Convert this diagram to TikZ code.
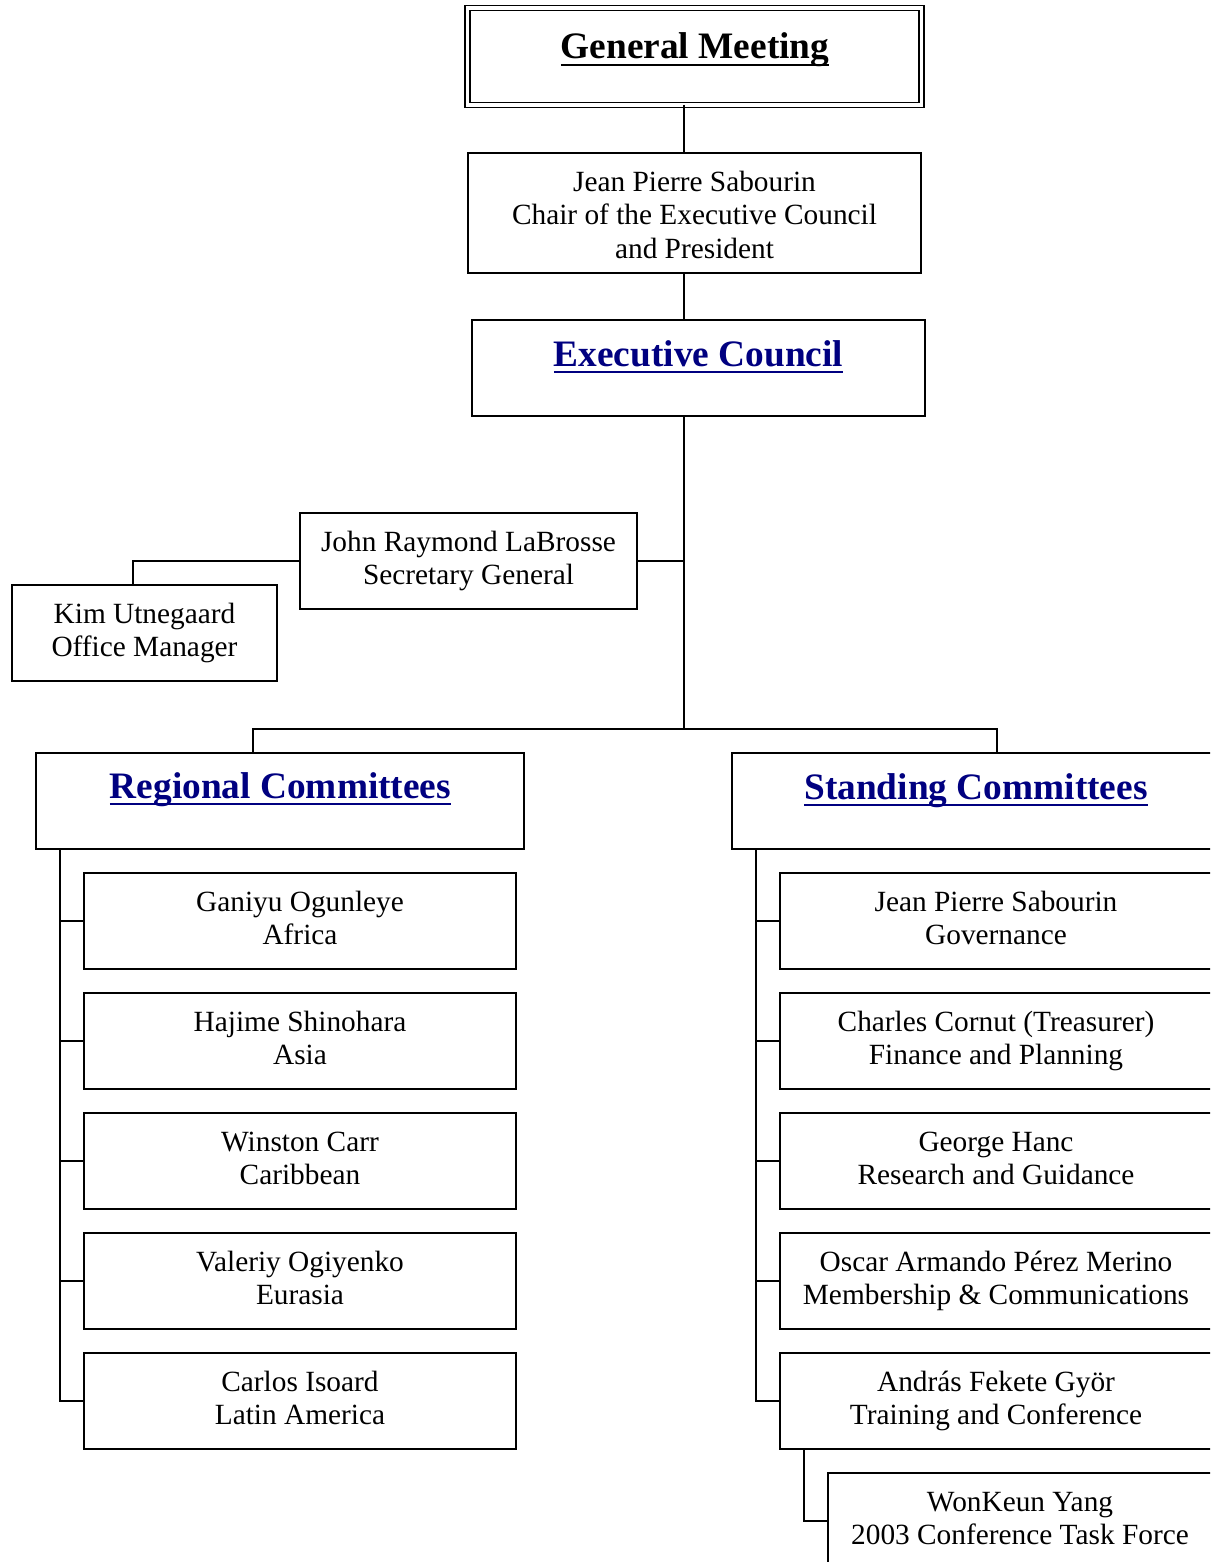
\documentclass[tikz,border=0pt]{standalone}
\usepackage{fontspec}
\setmainfont{Liberation Serif}
\definecolor{linkblue}{RGB}{0,0,128}
\newsavebox\ttlbox
\newcommand{\ulttl}[1]{\sbox\ttlbox{#1}\rlap{\vrule width\wd\ttlbox height -3.4pt depth 5.2pt}\usebox\ttlbox}
\newcommand{\lnstr}{\rule[-7.1pt]{0pt}{25pt}}
\newcommand{\lnstrc}{\rule[-3.6pt]{0pt}{25pt}}
\tikzset{
  orgbox/.style={draw, line width=1pt, rectangle, inner sep=0pt, outer sep=0pt, align=center, font=\fontsize{22}{25}\selectfont},
  ttl/.style={anchor=base, inner sep=0pt, font=\fontsize{28}{32}\selectfont\bfseries},
  link/.style={line width=1pt},
}
\begin{document}
\begin{tikzpicture}[x=0.75pt,y=0.75pt,yscale=-1,xscale=1]
\useasboundingbox (0,0) rectangle (1210,1562);
\clip (0,0) rectangle (1210,1562);

% Top boxes
\node[orgbox, double, double distance=2.75pt, minimum width=340.5pt, minimum height=72.75pt] (gm) at (694.5,56.5) {};
\node[ttl] (gmT) at (695,59) {\ulttl{General Meeting}};
\node[orgbox, minimum width=339.75pt, minimum height=90pt] (chair) at (694.5,213) {\lnstrc Jean Pierre Sabourin\\\lnstrc Chair of the Executive Council\\\lnstrc and President};
\node[orgbox, minimum width=339.75pt, minimum height=72pt] (exec) at (698.5,368) {};
\node[ttl, text=linkblue] (execT) at (698.5,366) {\ulttl{Executive Council}};

% Secretariat
\node[orgbox, minimum width=252.75pt, minimum height=72pt] (sec) at (468.5,561) {\lnstr John Raymond LaBrosse\\\lnstr Secretary General};
\node[orgbox, minimum width=198.75pt, minimum height=72pt] (kim) at (144.5,633) {\lnstr Kim Utnegaard\\\lnstr Office Manager};

% Committees
\node[orgbox, minimum width=366pt, minimum height=72pt] (reg) at (280,801) {};
\node[ttl, text=linkblue] (regT) at (280.5,798) {\ulttl{Regional Committees}};
\node[orgbox, minimum width=366pt, minimum height=72pt] (std) at (976,801) {};
\node[ttl, text=linkblue] (stdT) at (976,799) {\ulttl{Standing Committees}};

\foreach \nm/\rg [count=\i] in {Ganiyu Ogunleye/Africa, Hajime Shinohara/Asia, Winston Carr/Caribbean, Valeriy Ogiyenko/Eurasia, Carlos Isoard/Latin America}
  \node[orgbox, minimum width=324pt, minimum height=72pt] (reg\i) at (300,801+120*\i) {\lnstr\nm\\\lnstr\rg};
\foreach \nm/\rg [count=\i] in {Jean Pierre Sabourin/Governance, Charles Cornut (Treasurer)/Finance and Planning, George Hanc/Research and Guidance, Oscar Armando Pérez Merino/Membership \& Communications, András Fekete Györ/Training and Conference}
  \node[orgbox, minimum width=324pt, minimum height=72pt] (std\i) at (996,801+120*\i) {\lnstr\nm\\\lnstr\rg};
\node[orgbox, minimum width=288pt, minimum height=72pt] (won) at (1020,1521) {\lnstr WonKeun Yang\\\lnstr 2003 Conference Task Force};

% Connectors
\coordinate (barM) at (684,729);
\coordinate (regC) at (253,729);
\coordinate (stdC) at (997,729);
\coordinate (kimC) at (133,561);
\coordinate (regS) at (60,849);
\coordinate (stdS) at (756,849);
\coordinate (tcS) at (804,1449);
\draw[link] (gm.south -| barM) -- (chair.north -| barM);
\draw[link] (chair.south -| barM) -- (exec.north -| barM);
\draw[link] (exec.south -| barM) -- (barM);
\draw[link] (sec.east) -- (sec.east -| barM);
\draw[link] (sec.west) -- (kimC) -- (kimC |- kim.north);
\draw[link] (reg.north -| regC) -- (regC) -- (stdC) -- (std.north -| stdC);
\foreach \i in {1,...,5} {
  \draw[link] (regS) |- (reg\i.west);
  \draw[link] (stdS) |- (std\i.west);
}
\draw[link] (tcS) |- (won.west);
\end{tikzpicture}
\end{document}
